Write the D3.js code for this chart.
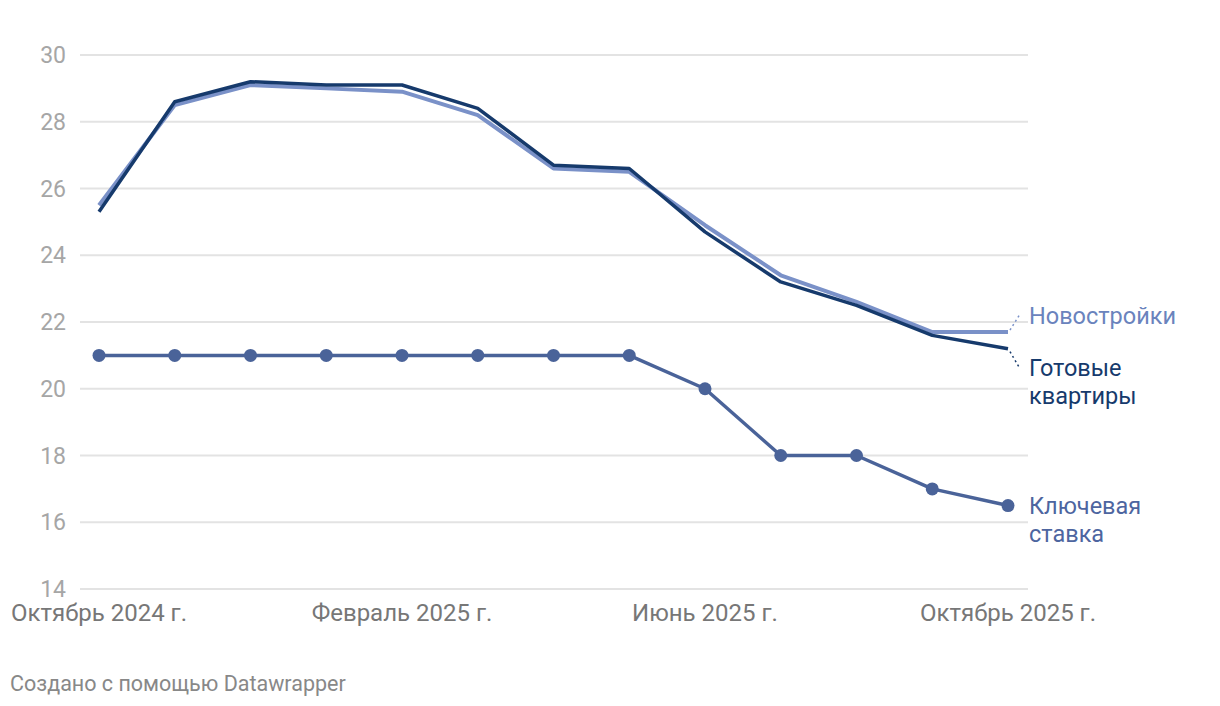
<!DOCTYPE html>
<html>
<head>
<meta charset="utf-8">
<script src="https://cdn.jsdelivr.net/npm/d3@7"></script>
<style>
  body { margin: 0; background: #fff; font-family: Roboto, "Noto Sans", sans-serif; }
  .grid line { stroke: #e3e3e3; stroke-width: 2; }
</style>
</head>
<body>
<div id="chart"></div>
<script>
const width = 1220;
const height = 706;

// данные по месяцам
const months = ["2024-10","2024-11","2024-12","2025-01","2025-02","2025-03","2025-04",
                "2025-05","2025-06","2025-07","2025-08","2025-09","2025-10"];
const novostroyki = [25.5, 28.5, 29.1, 29.0, 28.9, 28.2, 26.6, 26.5, 24.9, 23.4, 22.6, 21.7, 21.7];
const gotovye     = [25.3, 28.6, 29.2, 29.1, 29.1, 28.4, 26.7, 26.6, 24.7, 23.2, 22.5, 21.6, 21.2];
const keyRate     = [21, 21, 21, 21, 21, 21, 21, 21, 20, 18, 18, 17, 16.5];
const yTicks = [14, 16, 18, 20, 22, 24, 26, 28, 30];
const xTickIdx = [0, 4, 8, 12];
const xTickLabels = ["Октябрь 2024 г.", "Февраль 2025 г.", "Июнь 2025 г.", "Октябрь 2025 г."];

const svg = d3.select("#chart").append("svg")
  .attr("width", width)
  .attr("height", height);

const x = d3.scalePoint().domain(months).range([99, 1008]);
const y = d3.scaleLinear().domain([14, 30]).range([589, 55]);

// сетка
const grid = svg.append("g").attr("class", "grid");
grid.selectAll("line").data(yTicks).enter().append("line")
  .attr("x1", 80).attr("x2", 1028)
  .attr("y1", d => y(d)).attr("y2", d => y(d));

// подписи оси Y
svg.append("g").selectAll("text").data(yTicks).enter().append("text")
  .attr("x", 66).attr("y", d => y(d)).attr("dy", "0.35em")
  .attr("text-anchor", "end")
  .style("font-size", "23px").style("fill", "#a6a6a6")
  .text(d => d);

// подписи оси X
svg.append("g").selectAll("text").data(xTickIdx).enter().append("text")
  .attr("x", d => x(months[d])).attr("y", 621)
  .attr("text-anchor", "middle")
  .style("font-size", "24px").style("fill", "#777")
  .text((d, i) => xTickLabels[i]);

const line = d3.line()
  .x((d, i) => x(months[i]))
  .y(d => y(d));

const series = [
  { vals: novostroyki, color: "#7a91c8", w: 4 },
  { vals: gotovye, color: "#163a6c", w: 3.5 },
  { vals: keyRate, color: "#4a6399", w: 3.5 }
];

svg.append("g").selectAll("path").data(series).enter().append("path")
  .attr("d", d => line(d.vals))
  .attr("fill", "none")
  .attr("stroke", d => d.color)
  .attr("stroke-width", d => d.w)
  .attr("stroke-linejoin", "round");

// точки ключевой ставки
svg.append("g").selectAll("circle").data(keyRate).enter().append("circle")
  .attr("cx", (d, i) => x(months[i]))
  .attr("cy", d => y(d))
  .attr("r", 6.5)
  .attr("fill", "#4a6399");

// выноски к подписям
const last = months.length - 1;
const xe = x(months[last]);
svg.append("line")
  .attr("x1", xe + 2).attr("y1", y(novostroyki[last]) - 2)
  .attr("x2", xe + 12).attr("y2", y(novostroyki[last]) - 18)
  .attr("stroke", "#7a91c8").attr("stroke-width", 1.5).attr("stroke-dasharray", "2,3");
svg.append("line")
  .attr("x1", xe + 2).attr("y1", y(gotovye[last]) + 3)
  .attr("x2", xe + 12).attr("y2", y(gotovye[last]) + 20)
  .attr("stroke", "#163a6c").attr("stroke-width", 1.5).attr("stroke-dasharray", "2,3");

const labels = [
  { lines: ["Новостройки"], y0: 316, color: "#6a83bd" },
  { lines: ["Готовые", "квартиры"], y0: 368, color: "#163a6c" },
  { lines: ["Ключевая", "ставка"], y0: 506, color: "#4d65a0" }
];
labels.forEach(l => {
  const t = svg.append("text")
    .attr("x", 1029).attr("y", l.y0)
    .style("font-size", "23.5px").style("fill", l.color);
  l.lines.forEach((s, i) => {
    t.append("tspan").attr("x", 1029).attr("dy", i === 0 ? "0.35em" : 28).text(s);
  });
});

svg.append("text")
  .attr("x", 10).attr("y", 691)
  .style("font-size", "21.5px").style("fill", "#888")
  .text("Создано с помощью Datawrapper");
</script>
</body>
</html>
